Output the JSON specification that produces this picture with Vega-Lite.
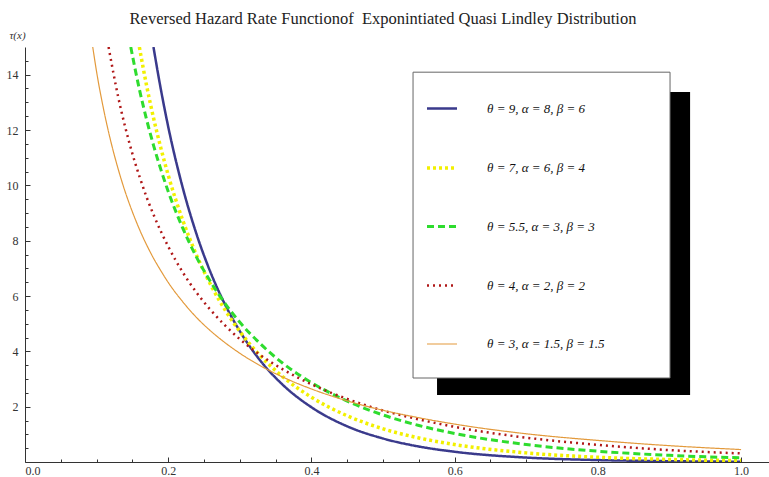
{
  "$schema": "https://vega.github.io/schema/vega-lite/v6.json",
  "width": 744,
  "height": 415,
  "autosize": {"type": "none"},
  "padding": {"left": 25, "top": 47, "right": 0, "bottom": 15},
  "background": "white",
  "title": {
    "text": "Reversed Hazard Rate Functionof \u00a0Exponintiated Quasi Lindley Distribution",
    "font": "Liberation Serif",
    "fontSize": 16.5,
    "fontWeight": "normal",
    "color": "#222222",
    "anchor": "middle",
    "frame": "group",
    "dx": -14,
    "offset": 2
  },
  "config": {
    "view": {"stroke": null},
    "axis": {"grid": false, "domainColor": "#333333", "tickColor": "#333333", "labelColor": "#333333", "labelFont": "Liberation Serif", "labelFontSize": 12}
  },
  "datasets": {
    "curves": [
      {"p": "θ = 9, α = 8, β = 6", "x": 0.1794, "y": 15},
      {"p": "θ = 9, α = 8, β = 6", "x": 0.19, "y": 13.43},
      {"p": "θ = 9, α = 8, β = 6", "x": 0.20, "y": 12.12},
      {"p": "θ = 9, α = 8, β = 6", "x": 0.22, "y": 9.94},
      {"p": "θ = 9, α = 8, β = 6", "x": 0.24, "y": 8.20},
      {"p": "θ = 9, α = 8, β = 6", "x": 0.26, "y": 6.80},
      {"p": "θ = 9, α = 8, β = 6", "x": 0.28, "y": 5.66},
      {"p": "θ = 9, α = 8, β = 6", "x": 0.30, "y": 4.73},
      {"p": "θ = 9, α = 8, β = 6", "x": 0.33, "y": 3.62},
      {"p": "θ = 9, α = 8, β = 6", "x": 0.36, "y": 2.79},
      {"p": "θ = 9, α = 8, β = 6", "x": 0.40, "y": 1.98},
      {"p": "θ = 9, α = 8, β = 6", "x": 0.45, "y": 1.29},
      {"p": "θ = 9, α = 8, β = 6", "x": 0.50, "y": 0.85},
      {"p": "θ = 9, α = 8, β = 6", "x": 0.55, "y": 0.56},
      {"p": "θ = 9, α = 8, β = 6", "x": 0.60, "y": 0.37},
      {"p": "θ = 9, α = 8, β = 6", "x": 0.70, "y": 0.16},
      {"p": "θ = 9, α = 8, β = 6", "x": 0.80, "y": 0.07},
      {"p": "θ = 9, α = 8, β = 6", "x": 0.90, "y": 0.03},
      {"p": "θ = 9, α = 8, β = 6", "x": 1.00, "y": 0.01},
      {"p": "θ = 7, α = 6, β = 4", "x": 0.1597, "y": 15},
      {"p": "θ = 7, α = 6, β = 4", "x": 0.17, "y": 13.58},
      {"p": "θ = 7, α = 6, β = 4", "x": 0.18, "y": 12.38},
      {"p": "θ = 7, α = 6, β = 4", "x": 0.19, "y": 11.32},
      {"p": "θ = 7, α = 6, β = 4", "x": 0.20, "y": 10.37},
      {"p": "θ = 7, α = 6, β = 4", "x": 0.22, "y": 8.76},
      {"p": "θ = 7, α = 6, β = 4", "x": 0.24, "y": 7.45},
      {"p": "θ = 7, α = 6, β = 4", "x": 0.26, "y": 6.37},
      {"p": "θ = 7, α = 6, β = 4", "x": 0.28, "y": 5.47},
      {"p": "θ = 7, α = 6, β = 4", "x": 0.30, "y": 4.72},
      {"p": "θ = 7, α = 6, β = 4", "x": 0.33, "y": 3.80},
      {"p": "θ = 7, α = 6, β = 4", "x": 0.36, "y": 3.08},
      {"p": "θ = 7, α = 6, β = 4", "x": 0.40, "y": 2.34},
      {"p": "θ = 7, α = 6, β = 4", "x": 0.45, "y": 1.67},
      {"p": "θ = 7, α = 6, β = 4", "x": 0.50, "y": 1.20},
      {"p": "θ = 7, α = 6, β = 4", "x": 0.55, "y": 0.87},
      {"p": "θ = 7, α = 6, β = 4", "x": 0.60, "y": 0.63},
      {"p": "θ = 7, α = 6, β = 4", "x": 0.70, "y": 0.33},
      {"p": "θ = 7, α = 6, β = 4", "x": 0.80, "y": 0.17},
      {"p": "θ = 7, α = 6, β = 4", "x": 0.90, "y": 0.09},
      {"p": "θ = 7, α = 6, β = 4", "x": 1.00, "y": 0.05},
      {"p": "θ = 5.5, α = 3, β = 3", "x": 0.1477, "y": 15},
      {"p": "θ = 5.5, α = 3, β = 3", "x": 0.16, "y": 13.44},
      {"p": "θ = 5.5, α = 3, β = 3", "x": 0.17, "y": 12.36},
      {"p": "θ = 5.5, α = 3, β = 3", "x": 0.18, "y": 11.40},
      {"p": "θ = 5.5, α = 3, β = 3", "x": 0.19, "y": 10.55},
      {"p": "θ = 5.5, α = 3, β = 3", "x": 0.20, "y": 9.78},
      {"p": "θ = 5.5, α = 3, β = 3", "x": 0.22, "y": 8.47},
      {"p": "θ = 5.5, α = 3, β = 3", "x": 0.24, "y": 7.38},
      {"p": "θ = 5.5, α = 3, β = 3", "x": 0.26, "y": 6.48},
      {"p": "θ = 5.5, α = 3, β = 3", "x": 0.28, "y": 5.71},
      {"p": "θ = 5.5, α = 3, β = 3", "x": 0.30, "y": 5.05},
      {"p": "θ = 5.5, α = 3, β = 3", "x": 0.33, "y": 4.24},
      {"p": "θ = 5.5, α = 3, β = 3", "x": 0.36, "y": 3.57},
      {"p": "θ = 5.5, α = 3, β = 3", "x": 0.40, "y": 2.87},
      {"p": "θ = 5.5, α = 3, β = 3", "x": 0.45, "y": 2.20},
      {"p": "θ = 5.5, α = 3, β = 3", "x": 0.50, "y": 1.70},
      {"p": "θ = 5.5, α = 3, β = 3", "x": 0.55, "y": 1.32},
      {"p": "θ = 5.5, α = 3, β = 3", "x": 0.60, "y": 1.03},
      {"p": "θ = 5.5, α = 3, β = 3", "x": 0.70, "y": 0.63},
      {"p": "θ = 5.5, α = 3, β = 3", "x": 0.80, "y": 0.39},
      {"p": "θ = 5.5, α = 3, β = 3", "x": 0.90, "y": 0.24},
      {"p": "θ = 5.5, α = 3, β = 3", "x": 1.00, "y": 0.15},
      {"p": "θ = 4, α = 2, β = 2", "x": 0.1167, "y": 15},
      {"p": "θ = 4, α = 2, β = 2", "x": 0.13, "y": 13.21},
      {"p": "θ = 4, α = 2, β = 2", "x": 0.14, "y": 12.10},
      {"p": "θ = 4, α = 2, β = 2", "x": 0.15, "y": 11.14},
      {"p": "θ = 4, α = 2, β = 2", "x": 0.16, "y": 10.31},
      {"p": "θ = 4, α = 2, β = 2", "x": 0.17, "y": 9.56},
      {"p": "θ = 4, α = 2, β = 2", "x": 0.18, "y": 8.91},
      {"p": "θ = 4, α = 2, β = 2", "x": 0.19, "y": 8.32},
      {"p": "θ = 4, α = 2, β = 2", "x": 0.20, "y": 7.79},
      {"p": "θ = 4, α = 2, β = 2", "x": 0.22, "y": 6.87},
      {"p": "θ = 4, α = 2, β = 2", "x": 0.24, "y": 6.11},
      {"p": "θ = 4, α = 2, β = 2", "x": 0.26, "y": 5.47},
      {"p": "θ = 4, α = 2, β = 2", "x": 0.28, "y": 4.92},
      {"p": "θ = 4, α = 2, β = 2", "x": 0.30, "y": 4.44},
      {"p": "θ = 4, α = 2, β = 2", "x": 0.33, "y": 3.84},
      {"p": "θ = 4, α = 2, β = 2", "x": 0.36, "y": 3.35},
      {"p": "θ = 4, α = 2, β = 2", "x": 0.40, "y": 2.81},
      {"p": "θ = 4, α = 2, β = 2", "x": 0.45, "y": 2.28},
      {"p": "θ = 4, α = 2, β = 2", "x": 0.50, "y": 1.86},
      {"p": "θ = 4, α = 2, β = 2", "x": 0.55, "y": 1.54},
      {"p": "θ = 4, α = 2, β = 2", "x": 0.60, "y": 1.27},
      {"p": "θ = 4, α = 2, β = 2", "x": 0.70, "y": 0.88},
      {"p": "θ = 4, α = 2, β = 2", "x": 0.80, "y": 0.62},
      {"p": "θ = 4, α = 2, β = 2", "x": 0.90, "y": 0.43},
      {"p": "θ = 4, α = 2, β = 2", "x": 1.00, "y": 0.31},
      {"p": "θ = 3, α = 1.5, β = 1.5", "x": 0.0946, "y": 15},
      {"p": "θ = 3, α = 1.5, β = 1.5", "x": 0.10, "y": 14.10},
      {"p": "θ = 3, α = 1.5, β = 1.5", "x": 0.11, "y": 12.72},
      {"p": "θ = 3, α = 1.5, β = 1.5", "x": 0.12, "y": 11.57},
      {"p": "θ = 3, α = 1.5, β = 1.5", "x": 0.13, "y": 10.60},
      {"p": "θ = 3, α = 1.5, β = 1.5", "x": 0.14, "y": 9.76},
      {"p": "θ = 3, α = 1.5, β = 1.5", "x": 0.15, "y": 9.04},
      {"p": "θ = 3, α = 1.5, β = 1.5", "x": 0.16, "y": 8.40},
      {"p": "θ = 3, α = 1.5, β = 1.5", "x": 0.17, "y": 7.84},
      {"p": "θ = 3, α = 1.5, β = 1.5", "x": 0.18, "y": 7.34},
      {"p": "θ = 3, α = 1.5, β = 1.5", "x": 0.19, "y": 6.90},
      {"p": "θ = 3, α = 1.5, β = 1.5", "x": 0.20, "y": 6.49},
      {"p": "θ = 3, α = 1.5, β = 1.5", "x": 0.22, "y": 5.80},
      {"p": "θ = 3, α = 1.5, β = 1.5", "x": 0.24, "y": 5.21},
      {"p": "θ = 3, α = 1.5, β = 1.5", "x": 0.26, "y": 4.72},
      {"p": "θ = 3, α = 1.5, β = 1.5", "x": 0.28, "y": 4.30},
      {"p": "θ = 3, α = 1.5, β = 1.5", "x": 0.30, "y": 3.93},
      {"p": "θ = 3, α = 1.5, β = 1.5", "x": 0.33, "y": 3.46},
      {"p": "θ = 3, α = 1.5, β = 1.5", "x": 0.36, "y": 3.07},
      {"p": "θ = 3, α = 1.5, β = 1.5", "x": 0.40, "y": 2.64},
      {"p": "θ = 3, α = 1.5, β = 1.5", "x": 0.45, "y": 2.21},
      {"p": "θ = 3, α = 1.5, β = 1.5", "x": 0.50, "y": 1.87},
      {"p": "θ = 3, α = 1.5, β = 1.5", "x": 0.55, "y": 1.60},
      {"p": "θ = 3, α = 1.5, β = 1.5", "x": 0.60, "y": 1.37},
      {"p": "θ = 3, α = 1.5, β = 1.5", "x": 0.70, "y": 1.02},
      {"p": "θ = 3, α = 1.5, β = 1.5", "x": 0.80, "y": 0.78},
      {"p": "θ = 3, α = 1.5, β = 1.5", "x": 0.90, "y": 0.59},
      {"p": "θ = 3, α = 1.5, β = 1.5", "x": 1.00, "y": 0.45}
    ]
  },
  "layer": [
    {
      "data": {"values": [{}]},
      "mark": {"type": "rect", "color": "black"},
      "encoding": {
        "x": {"datum": 0.5754, "type": "quantitative", "scale": {"domain": [0, 1.039], "nice": false, "zero": false},
          "axis": {"orient": "bottom", "values": [0.05, 0.1, 0.15, 0.25, 0.3, 0.35, 0.45, 0.5, 0.55, 0.65, 0.7, 0.75, 0.85, 0.9, 0.95], "labels": false, "domain": false, "tickSize": -3, "title": null}},
        "x2": {"datum": 0.9288},
        "y": {"datum": 13.37, "type": "quantitative", "scale": {"domain": [0, 15], "nice": false, "zero": false},
          "axis": {"orient": "left", "values": [0.5, 1, 1.5, 2.5, 3, 3.5, 4.5, 5, 5.5, 6.5, 7, 7.5, 8.5, 9, 9.5, 10.5, 11, 11.5, 12.5, 13, 13.5, 14.5], "labels": false, "domain": false, "tickSize": -3, "title": null}},
        "y2": {"datum": 2.42}
      }
    },
    {
      "data": {"values": [{}]},
      "mark": {"type": "rect", "fill": "white", "stroke": "#666666", "strokeWidth": 1},
      "encoding": {
        "x": {"datum": 0.5419, "type": "quantitative", "axis": null},
        "x2": {"datum": 0.9008},
        "y": {"datum": 14.09, "type": "quantitative", "axis": null},
        "y2": {"datum": 3.036}
      }
    },
    {
      "data": {"name": "curves"},
      "mark": {"type": "line", "interpolate": "monotone", "clip": true},
      "encoding": {
        "x": {"field": "x", "type": "quantitative",
          "axis": {"orient": "bottom", "values": [0, 0.2, 0.4, 0.6, 0.8, 1.0], "format": ".1f", "tickSize": -5, "labelPadding": 8, "title": null, "domainWidth": 1}},
        "y": {"field": "y", "type": "quantitative",
          "axis": {"orient": "left", "values": [2, 4, 6, 8, 10, 12, 14], "tickSize": -5, "labelPadding": 12, "domainWidth": 1,
            "title": "τ(x)", "titleAngle": 0, "titleX": -8, "titleY": -12, "titleAlign": "center", "titleBaseline": "middle", "titleFont": "Liberation Serif", "titleFontStyle": "italic", "titleFontWeight": "normal", "titleFontSize": 11, "titleColor": "#333333"}},
        "color": {"field": "p", "type": "nominal",
          "scale": {"domain": ["θ = 9, α = 8, β = 6", "θ = 7, α = 6, β = 4", "θ = 5.5, α = 3, β = 3", "θ = 4, α = 2, β = 2", "θ = 3, α = 1.5, β = 1.5"],
                    "range": ["#3a3a8c", "#f2f000", "#2edc2e", "#b01818", "#e39a3c"]},
          "legend": {"title": null, "orient": "none", "legendX": 400, "legendY": 45, "symbolType": "stroke", "symbolSize": 900, "rowPadding": 35, "labelOffset": 28, "padding": 0,
            "labelFont": "Liberation Serif", "labelFontStyle": "italic", "labelFontSize": 13, "labelColor": "#111111", "labelLimit": 300}},
        "strokeDash": {"field": "p", "type": "nominal",
          "scale": {"domain": ["θ = 9, α = 8, β = 6", "θ = 7, α = 6, β = 4", "θ = 5.5, α = 3, β = 3", "θ = 4, α = 2, β = 2", "θ = 3, α = 1.5, β = 1.5"],
                    "range": [[1, 0], [3, 3], [7, 4], [2, 4], [1, 0]]}},
        "strokeWidth": {"field": "p", "type": "nominal",
          "scale": {"type": "ordinal", "domain": ["θ = 9, α = 8, β = 6", "θ = 7, α = 6, β = 4", "θ = 5.5, α = 3, β = 3", "θ = 4, α = 2, β = 2", "θ = 3, α = 1.5, β = 1.5"],
                    "range": [2.5, 3.5, 3, 2.5, 1.2]}}
      }
    }
  ],
  "resolve": {"axis": {"x": "independent", "y": "independent"}}
}
